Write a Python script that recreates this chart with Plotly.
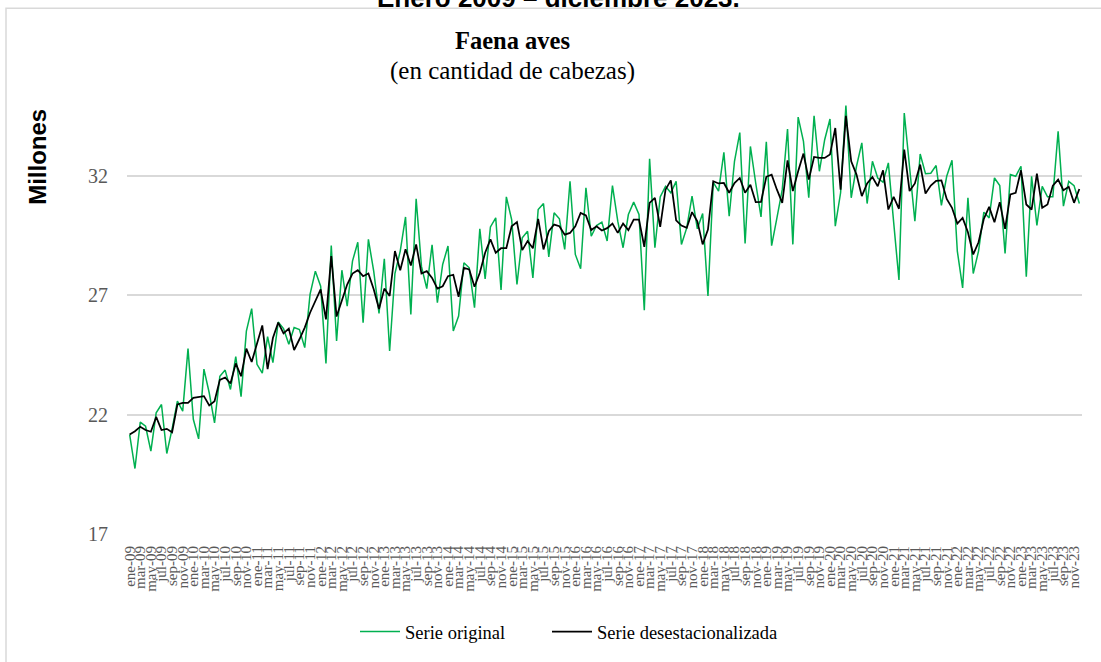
import plotly.graph_objects as go

# ---------------- data ----------------
month_abbr = ["ene", "feb", "mar", "abr", "may", "jun", "jul", "ago", "sep", "oct", "nov", "dic"]
years = list(range(2009, 2024))
categories = [f"{m}-{str(y)[2:]}" for y in years for m in month_abbr]

serie_original = [
    21.16, 19.74, 21.68, 21.51, 20.47, 22.07, 22.42, 20.37, 21.40, 22.56, 22.14, 24.76,
    21.80, 20.98, 23.90, 22.90, 21.65, 23.60, 23.86, 23.05, 24.42, 22.75, 25.49, 26.43,
    24.10, 23.73, 25.26, 24.17, 25.87, 25.60, 24.94, 25.64, 25.56, 24.80, 27.03, 28.00,
    27.37, 24.14, 29.07, 25.08, 28.04, 26.54, 28.42, 29.21, 25.84, 29.33, 28.00, 26.23,
    28.52, 24.66, 27.90, 28.84, 30.27, 26.19, 31.03, 28.20, 27.27, 29.10, 26.68, 28.28,
    29.05, 25.50, 26.12, 28.35, 28.14, 26.47, 29.77, 27.68, 29.85, 30.23, 27.21, 31.11,
    30.16, 27.44, 29.40, 29.67, 27.72, 30.58, 30.83, 28.60, 30.44, 30.19, 28.91, 31.76,
    28.70, 28.10, 31.49, 29.46, 29.91, 30.05, 29.26, 31.58, 30.09, 28.98, 30.37, 30.89,
    30.37, 26.37, 32.70, 28.98, 31.11, 31.55, 31.28, 31.76, 29.12, 29.81, 31.14, 29.77,
    30.41, 26.96, 31.72, 31.35, 32.97, 30.30, 32.60, 33.80, 29.16, 33.22, 31.69, 30.27,
    33.41, 29.07, 30.23, 31.41, 33.95, 29.12, 34.45, 33.43, 31.07, 34.50, 32.18, 33.50,
    34.37, 29.88, 31.28, 34.93, 31.07, 32.39, 33.37, 30.83, 32.60, 31.90, 31.72, 32.53,
    30.05, 27.63, 34.62, 32.25, 30.09, 32.90, 32.08, 32.10, 32.42, 30.75, 31.97, 32.64,
    28.84, 27.30, 31.07, 27.90, 28.84, 30.47, 30.23, 31.90, 31.58, 28.74, 32.04, 31.97,
    32.39, 27.77, 31.97, 29.91, 31.55, 31.11, 31.11, 33.85, 30.72, 31.76, 31.58, 30.83,
]

serie_desestacionalizada = [
    21.16, 21.30, 21.49, 21.35, 21.28, 21.90, 21.35, 21.40, 21.26, 22.42, 22.49, 22.49,
    22.70, 22.74, 22.77, 22.38, 22.56, 23.45, 23.55, 23.30, 24.14, 23.60, 24.76, 24.20,
    25.00, 25.73, 23.90, 25.20, 25.85, 25.40, 25.60, 24.70, 25.15, 25.64, 26.26, 26.75,
    27.24, 25.98, 28.63, 26.10, 26.75, 27.44, 27.90, 28.04, 27.79, 27.90, 27.24, 26.42,
    27.27, 26.96, 28.84, 28.04, 28.92, 28.24, 29.12, 27.90, 28.00, 27.72, 27.27, 27.37,
    27.79, 27.85, 26.93, 28.14, 28.07, 27.35, 27.93, 28.77, 29.33, 28.77, 28.96, 28.96,
    29.88, 30.05, 28.88, 29.26, 28.96, 30.19, 28.91, 29.67, 29.95, 29.88, 29.53, 29.60,
    29.88, 30.44, 30.33, 29.72, 29.88, 29.70, 29.80, 29.99, 29.60, 29.99, 29.72, 30.16,
    30.16, 29.02, 30.86, 31.07, 29.85, 31.41, 31.80, 30.13, 29.91, 29.81, 30.47, 30.09,
    29.12, 29.74, 31.76, 31.67, 31.69, 31.28, 31.69, 31.90, 31.28, 31.62, 30.89, 30.90,
    31.95, 32.04, 31.41, 30.86, 32.64, 31.35, 32.18, 32.92, 31.83, 32.78, 32.74, 32.74,
    32.88, 33.99, 31.41, 34.50, 32.60, 32.04, 31.14, 31.67, 31.94, 31.55, 32.22, 30.58,
    31.11, 30.61, 33.09, 31.35, 31.67, 32.46, 31.25, 31.58, 31.78, 31.80, 31.02, 30.65,
    29.99, 30.23, 29.63, 28.70, 29.21, 30.19, 30.69, 30.05, 30.89, 29.77, 31.21, 31.28,
    32.22, 30.79, 30.58, 32.08, 30.65, 30.79, 31.58, 31.83, 31.39, 31.53, 30.86, 31.44,
]

y_ticks = [17, 22, 27, 32]

# ---------------- layout geometry ----------------
W, H = 1101, 662
ML, MR, MT, MB = 127, 19, 80, 127
PW, PH = W - ML - MR, H - MT - MB


def px_x(px):
    return (px - ML) / PW


def px_y(py):
    return (H - MB - py) / PH


idx = list(range(len(categories)))
tick_idx = idx[::2]
tick_txt = categories[::2]

legend_font = dict(family="Liberation Serif", size=18.5, color="#000000")

fig = go.Figure()
fig.add_trace(go.Scatter(
    x=idx, y=serie_original, mode="lines", name="Serie original",
    line=dict(color="#00B050", width=1.5), legend="legend",
))
fig.add_trace(go.Scatter(
    x=idx, y=serie_desestacionalizada, mode="lines", name="Serie desestacionalizada",
    line=dict(color="#000000", width=1.75), legend="legend2",
))

fig.update_layout(
    width=W, height=H,
    margin=dict(l=ML, r=MR, t=MT, b=MB, pad=0),
    paper_bgcolor="white", plot_bgcolor="white",
    showlegend=True,
    legend=dict(
        orientation="h", x=px_x(355), xanchor="left", y=px_y(632), yanchor="middle",
        font=legend_font, itemwidth=40, bgcolor="rgba(0,0,0,0)",
    ),
    legend2=dict(
        orientation="h", x=px_x(547), xanchor="left", y=px_y(632), yanchor="middle",
        font=legend_font, itemwidth=40, bgcolor="rgba(0,0,0,0)",
    ),
    xaxis=dict(
        range=[-0.5, len(categories) - 0.5],
        tickmode="array", tickvals=tick_idx, ticktext=tick_txt,
        tickangle=-90, showgrid=False, zeroline=False, showline=False, ticks="",
        tickfont=dict(family="Liberation Serif", size=15, color="#595959"),
        ticklabelstandoff=8, automargin=False,
    ),
    yaxis=dict(
        range=[17, 36], tickmode="array", tickvals=y_ticks,
        showgrid=True, gridcolor="#D9D9D9", gridwidth=1.5,
        zeroline=False, showline=False, ticks="",
        tickfont=dict(family="Liberation Serif", size=20, color="#595959"),
        ticklabelstandoff=18, automargin=False,
    ),
    shapes=[dict(
        type="rect", xref="paper", yref="paper",
        x0=px_x(6), x1=px_x(1115), y0=px_y(675), y1=px_y(8),
        line=dict(color="#D9D9D9", width=1.5), fillcolor="rgba(0,0,0,0)", layer="below",
    )],
    annotations=[
        dict(text="<b>Enero 2009 – diciembre 2023.</b>", xref="paper", yref="paper",
             x=px_x(558), y=px_y(-2), xanchor="center", yanchor="middle", showarrow=False,
             font=dict(family="Liberation Sans", size=26, color="#000000")),
        dict(text="<b>Faena aves</b>", xref="paper", yref="paper",
             x=px_x(512), y=px_y(40), xanchor="center", yanchor="middle", showarrow=False,
             font=dict(family="Liberation Serif", size=24.5, color="#000000")),
        dict(text="(en cantidad de cabezas)", xref="paper", yref="paper",
             x=px_x(512), y=px_y(71), xanchor="center", yanchor="middle", showarrow=False,
             font=dict(family="Liberation Serif", size=25, color="#000000")),
        dict(text="<b>Millones</b>", xref="paper", yref="paper",
             x=px_x(38), y=px_y(157), xanchor="center", yanchor="middle", showarrow=False,
             textangle=-90,
             font=dict(family="Liberation Sans", size=24, color="#000000")),
    ],
)

fig.write_html(
    "out.html",
    config={"displayModeBar": False},
    post_script="document.body.style.margin='0px';",
)
